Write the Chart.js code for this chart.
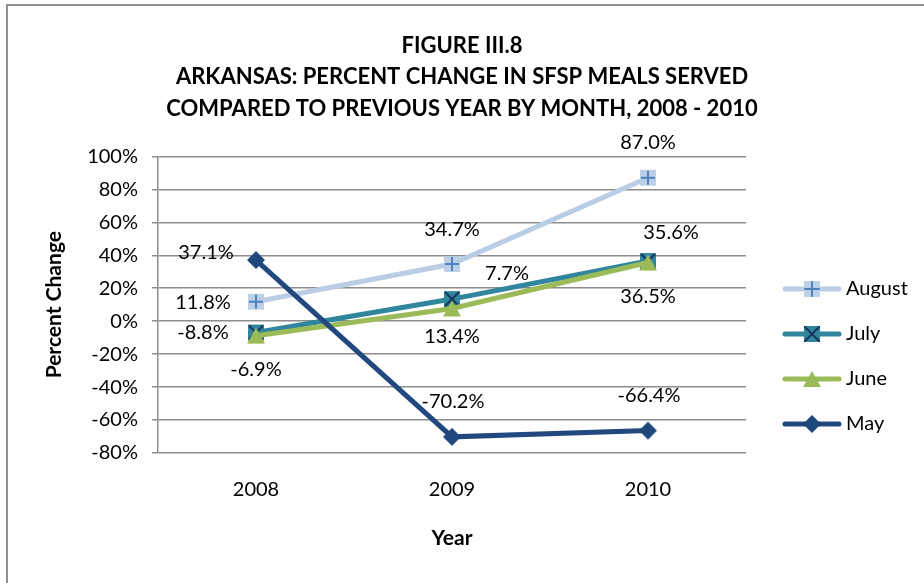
<!DOCTYPE html>
<html>
<head>
<meta charset="utf-8">
<script src="https://cdn.jsdelivr.net/npm/chart.js@4.4.1/dist/chart.umd.min.js"></script>
<style>
  html, body { margin: 0; padding: 0; background: #fff; overflow: hidden; }
  #wrap { position: relative; width: 924px; height: 583px; }
  #frame { position: absolute; left: 6px; top: 4px; width: 1000px; height: 1000px; border: 2px solid #8f8f8f; box-sizing: border-box; }
  canvas { position: absolute; left: 0; top: 0; }
</style>
</head>
<body>
<div id="wrap">
  <div id="frame"></div>
  <canvas id="chart" width="924" height="583"></canvas>
</div>
<script>
// data
const years = ['2008', '2009', '2010'];
const seriesNames = ['August', 'July', 'June', 'May'];
const august = [11.8, 34.7, 87.0];
const july = [-6.9, 13.4, 36.5];
const june = [-8.8, 7.7, 35.6];
const may = [37.1, -70.2, -66.4];
const yMin = -80;
const yMax = 100;
const yStep = 20;

// label nudges (px) so the value labels sit where they are in the figure
const labelOffsets = [
    [[-53, 1], [0, -34], [0, -35]],
    [[0, 37], [0, 37], [0, 36]],
    [[-53, -3], [55, -35], [23, -30]],
    [[-50, -7], [1, -35], [1, -35]]
];

const FONT = 'Lato, "Open Sans", sans-serif';

// marker images (Excel-like compound markers)
function makeMarker(kind, w) {
    const c = document.createElement('canvas');
    c.width = w || 20;
    c.height = 20;
    const g = c.getContext('2d');
    const cx = c.width / 2, cy = 10;
    if (w) {
        // legend sample: line behind marker
        g.strokeStyle = kind.line;
        g.lineWidth = 5;
        g.lineCap = 'round';
        g.beginPath();
        g.moveTo(3, cy);
        g.lineTo(c.width - 3, cy);
        g.stroke();
    }
    if (kind.type === 'plus') {
        g.fillStyle = 'rgba(185,205,229,0.95)';
        g.fillRect(cx - 8, cy - 8, 16, 16);
        g.strokeStyle = '#4f81bd';
        g.lineWidth = 2;
        g.beginPath();
        g.moveTo(cx - 7, cy); g.lineTo(cx + 7, cy);
        g.moveTo(cx, cy - 7); g.lineTo(cx, cy + 7);
        g.stroke();
    } else if (kind.type === 'x') {
        g.fillStyle = '#31859c';
        g.fillRect(cx - 8, cy - 8, 16, 16);
        g.strokeStyle = '#17375e';
        g.lineWidth = 2;
        g.beginPath();
        g.moveTo(cx - 7, cy - 7); g.lineTo(cx + 7, cy + 7);
        g.moveTo(cx + 7, cy - 7); g.lineTo(cx - 7, cy + 7);
        g.stroke();
    } else if (kind.type === 'tri') {
        g.fillStyle = '#9bbb59';
        g.beginPath();
        g.moveTo(cx, cy - 8);
        g.lineTo(cx + 9, cy + 8);
        g.lineTo(cx - 9, cy + 8);
        g.closePath();
        g.fill();
    } else {
        g.fillStyle = '#1f497d';
        g.beginPath();
        g.moveTo(cx, cy - 9);
        g.lineTo(cx + 9, cy);
        g.lineTo(cx, cy + 9);
        g.lineTo(cx - 9, cy);
        g.closePath();
        g.fill();
    }
    return c;
}

const kinds = [
    { type: 'plus', line: '#b9cde5' },
    { type: 'x', line: '#31859c' },
    { type: 'tri', line: '#9bbb59' },
    { type: 'diamond', line: '#21497f' }
];
const values = [august, july, june, may];

const datasets = values.map((data, i) => ({
    label: seriesNames[i],
    data,
    borderColor: kinds[i].line,
    backgroundColor: kinds[i].line,
    borderWidth: 5,
    pointStyle: makeMarker(kinds[i]),
    pointRadius: 9,
    tension: 0,
    order: 4 - i
}));

// value labels drawn next to each point
const valueLabels = {
    id: 'valueLabels',
    afterDatasetsDraw(chart) {
        const ctx = chart.ctx;
        ctx.save();
        ctx.font = '20px ' + FONT;
        ctx.fillStyle = '#000';
        ctx.textAlign = 'center';
        ctx.textBaseline = 'middle';
        chart.data.datasets.forEach((ds, i) => {
            const meta = chart.getDatasetMeta(i);
            meta.data.forEach((pt, j) => {
                const [dx, dy] = labelOffsets[i][j];
                ctx.fillText(ds.data[j].toFixed(1) + '%', pt.x + dx, pt.y + dy);
            });
        });
        ctx.restore();
    }
};

// legend on the right, line + marker samples
const sideLegend = {
    id: 'sideLegend',
    afterDraw(chart) {
        const ctx = chart.ctx;
        ctx.save();
        ctx.font = '20px ' + FONT;
        ctx.fillStyle = '#000';
        ctx.textBaseline = 'middle';
        chart.data.datasets.forEach((ds, i) => {
            const y = 289 + i * 45;
            const img = makeMarker(kinds[i], 60);
            ctx.drawImage(img, 782, y - 10);
            ctx.fillText(ds.label, 846, y);
        });
        ctx.restore();
    }
};

const ctx = document.getElementById('chart').getContext('2d');
new Chart(ctx, {
    type: 'line',
    data: { labels: years, datasets },
    options: {
        responsive: false,
        animation: false,
        layout: { padding: 0 },
        plugins: {
            legend: { display: false },
            tooltip: { enabled: false },
            title: {
                display: true,
                text: ['FIGURE III.8',
                       'ARKANSAS: PERCENT CHANGE IN SFSP MEALS SERVED',
                       'COMPARED TO PREVIOUS YEAR BY MONTH, 2008 - 2010'],
                color: '#000',
                font: { family: FONT, size: 22, weight: 'bold', lineHeight: 1.43 },
                padding: { top: 30, bottom: 32 }
            }
        },
        scales: {
            x: {
                offset: true,
                grid: { display: false },
                border: { display: false },
                ticks: { color: '#000', font: { family: FONT, size: 20 }, padding: 17 },
                title: {
                    display: true,
                    text: 'Year',
                    color: '#000',
                    font: { family: FONT, size: 21, weight: 'bold' },
                    padding: { top: 0, bottom: 32 }
                },
                afterFit(scale) { scale.height = 130; }
            },
            y: {
                min: yMin,
                max: yMax,
                ticks: {
                    stepSize: yStep,
                    color: '#000',
                    font: { family: FONT, size: 20 },
                    padding: 14,
                    callback: v => v + '%'
                },
                grid: { color: '#8c8c8c', lineWidth: 1.5, tickLength: 6 },
                border: { display: true, color: '#8c8c8c', width: 1.5 },
                title: {
                    display: true,
                    text: 'Percent Change',
                    color: '#000',
                    font: { family: FONT, size: 21, weight: 'bold' },
                    padding: { top: 42, bottom: 0 }
                },
                afterFit(scale) { scale.width = 158; }
            },
            // empty right-hand axis that only reserves room for the legend
            legendSpace: {
                position: 'right',
                min: yMin,
                max: yMax,
                ticks: { display: false },
                grid: { display: false },
                border: { display: false },
                afterFit(scale) { scale.width = 178; }
            }
        }
    },
    plugins: [valueLabels, sideLegend]
});
</script>
</body>
</html>
